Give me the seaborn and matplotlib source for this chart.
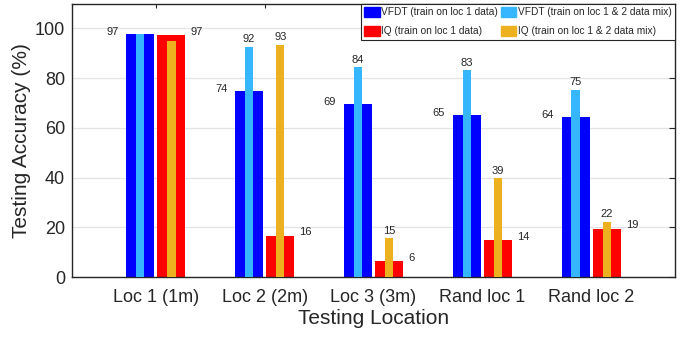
import matplotlib
matplotlib.use("Agg")
import matplotlib.pyplot as plt
import matplotlib.patches as mpatches
import seaborn as sns
import pandas as pd
import numpy as np

locations = ["Loc 1 (1m)", "Loc 2 (2m)", "Loc 3 (3m)", "Rand loc 1", "Rand loc 2"]
vfdt_loc1 = [97.8, 74.7, 69.5, 65.3, 64.4]
vfdt_mix = [97.8, 92.6, 84.4, 83.1, 75.3]
iq_loc1 = [97.3, 16.5, 6.4, 14.8, 19.5]
iq_mix = [94.9, 93.4, 15.6, 39.8, 22.3]
show_mix_label = [False, True, True, True, True]

series_names = ["VFDT (train on loc 1 data)", "VFDT (train on loc 1 & 2 data mix)",
                "IQ (train on loc 1 data)", "IQ (train on loc 1 & 2 data mix)"]
colors = ["#0000ff", "#36b6ff", "#ff0000", "#edb120"]

sns.set_theme(style="white")
plt.rcParams["font.family"] = ["Liberation Sans", "DejaVu Sans"]
dark = "#262626"

fig = plt.figure(figsize=(6.92, 3.37), dpi=100)
ax = fig.add_axes([72/692, 1-277/337, (675-72)/692, (277-3.5)/337])

wide = pd.DataFrame({
    "loc": locations * 2,
    "acc": vfdt_loc1 + iq_loc1,
    "series": ["VFDT"] * 5 + ["IQ"] * 5,
})
narrow = pd.DataFrame({
    "loc": locations * 2,
    "acc": vfdt_mix + iq_mix,
    "series": ["VFDTmix"] * 5 + ["IQmix"] * 5,
})

W = 0.576
sns.barplot(data=wide, x="loc", y="acc", hue="series", order=locations,
            palette=[colors[0], colors[2]], saturation=1, width=W, gap=0.107,
            errorbar=None, linewidth=0, legend=False, ax=ax, zorder=2)
sns.barplot(data=narrow, x="loc", y="acc", hue="series", order=locations,
            palette=[colors[1], colors[3]], saturation=1, width=W, gap=0.743,
            errorbar=None, linewidth=0, legend=False, ax=ax, zorder=3)

off = W / 4
half_wide = 0.257 / 2
fs = 8
for i in range(len(locations)):
    ax.text(i - off - half_wide - 0.07, vfdt_loc1[i] + 0.8, f"{int(vfdt_loc1[i])}",
            ha="right", va="center", fontsize=fs, color=dark)
    ax.text(i + off + half_wide + 0.045, iq_loc1[i] + 1.4, f"{int(iq_loc1[i])}",
            ha="left", va="center", fontsize=fs, color=dark)
    if show_mix_label[i]:
        ax.text(i - off, vfdt_mix[i] + 1.0, f"{int(vfdt_mix[i])}",
                ha="center", va="bottom", fontsize=fs, color=dark)
        ax.text(i + off, iq_mix[i] + 1.0, f"{int(iq_mix[i])}",
                ha="center", va="bottom", fontsize=fs, color=dark)

ax.set_xlim(-0.77, 4.77)
ax.set_ylim(0, 110)
ax.set_yticks([0, 20, 40, 60, 80, 100])
ax.yaxis.grid(True, color="#e3e3e3", linewidth=0.9, zorder=0)
ax.set_axisbelow(True)
ax.set_xlabel("Testing Location", fontsize=15, color=dark, labelpad=2)
ax.set_ylabel("Testing Accuracy (%)", fontsize=15, color=dark, labelpad=3)
ax.tick_params(axis="both", direction="in", length=4, width=0.8, color=dark,
               labelcolor=dark, top=True, right=True)
ax.tick_params(axis="y", labelsize=13, pad=5)
ax.tick_params(axis="x", labelsize=13, pad=9, length=3)
for s in ax.spines.values():
    s.set_visible(True)
    s.set_color(dark)
    s.set_linewidth(1.0)

handles = [mpatches.Patch(color=colors[0]), mpatches.Patch(color=colors[2]),
           mpatches.Patch(color=colors[1]), mpatches.Patch(color=colors[3])]
labels = [series_names[0], series_names[2], series_names[1], series_names[3]]
leg = ax.legend(handles, labels, loc="upper right", bbox_to_anchor=(1, 1),
                borderaxespad=0, ncol=2, fancybox=False, framealpha=1,
                edgecolor=dark, fontsize=7.3, handlelength=1.5, handleheight=1.1,
                handletextpad=0.15, columnspacing=0.3, labelspacing=0.85,
                borderpad=0.35)
leg.get_frame().set_linewidth(0.8)
for t in leg.get_texts():
    t.set_color(dark)

fig.savefig("out.png", dpi=100)
